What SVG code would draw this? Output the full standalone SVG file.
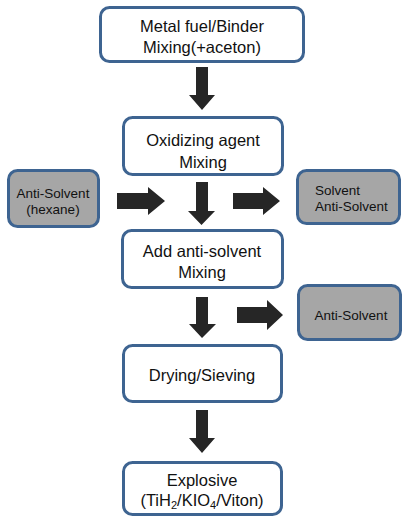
<svg xmlns="http://www.w3.org/2000/svg" width="402" height="517" viewBox="0 0 402 517">
<style>
.box{fill:#ffffff;stroke:#3e6491;stroke-width:3}
.gbox{fill:#a6a6a6;stroke:#3e6491;stroke-width:3}
.t{font-family:"Liberation Sans",Arial,sans-serif;font-size:16.5px;fill:#111;text-anchor:middle}
.s{font-family:"Liberation Sans",Arial,sans-serif;font-size:13.5px;fill:#111;text-anchor:middle}
.arr{fill:#262626}
</style>
<rect width="402" height="517" fill="#ffffff"/>
<g id="connectors">
<polygon class="arr" points="196,67 208,67 208,95 215,95 202,110 189,95 196,95"/>
<polygon class="arr" points="196,182 208,182 208,211 215,211 201.5,225 188,211 196,211"/>
<polygon class="arr" points="117,193 148,193 148,187 165,201 148,215 148,209 117,209"/>
<polygon class="arr" points="233,193 263,193 263,187 280,201 263,215 263,209 233,209"/>
<polygon class="arr" points="196,297 208,297 208,324 216,324 202,338 189,324 196,324"/>
<polygon class="arr" points="237,307 267,307 267,300 283,315 267,330 267,323 237,323"/>
<polygon class="arr" points="196,410 208,410 208,438 215,438 202,453 189,438 196,438"/>
</g>
<g id="n1">
<rect class="box" x="100.5" y="7.5" width="203" height="54" rx="9"/>
<text class="t" x="202" y="32">Metal fuel/Binder</text>
<text class="t" x="202" y="53">Mixing(+aceton)</text>
</g>
<g id="n2">
<rect class="box" x="123.5" y="117.5" width="159" height="57" rx="9"/>
<text class="t" x="203" y="146">Oxidizing agent</text>
<text class="t" x="203" y="168">Mixing</text>
</g>
<g id="n_antisolvent_hexane">
<rect class="gbox" x="8.5" y="170.5" width="90" height="56" rx="9"/>
<text class="s" x="53" y="198">Anti-Solvent</text>
<text class="s" x="53" y="214">(hexane)</text>
</g>
<g id="n_solvent">
<rect class="gbox" x="297.5" y="170.5" width="102" height="53" rx="9"/>
<text class="s" x="315" y="195" style="text-anchor:start">Solvent</text>
<text class="s" x="315" y="211" style="text-anchor:start">Anti-Solvent</text>
</g>
<g id="n3">
<rect class="box" x="122.5" y="230.5" width="160" height="57" rx="9"/>
<text class="t" x="202" y="257">Add anti-solvent</text>
<text class="t" x="202" y="278">Mixing</text>
</g>
<g id="n_antisolvent">
<rect class="gbox" x="298.5" y="285.5" width="102" height="54" rx="9"/>
<text class="s" x="351" y="320">Anti-Solvent</text>
</g>
<g id="n4">
<rect class="box" x="123.5" y="345.5" width="158" height="56" rx="9"/>
<text class="t" x="202" y="381">Drying/Sieving</text>
</g>
<g id="n5">
<rect class="box" x="123.5" y="462.5" width="158" height="52" rx="9"/>
<text class="t" x="202" y="486">Explosive</text>
<text class="t" x="202" y="506">(TiH<tspan font-size="11" dy="3">2</tspan><tspan dy="-3">/KIO</tspan><tspan font-size="11" dy="3">4</tspan><tspan dy="-3">/Viton)</tspan></text>
</g>
</svg>
